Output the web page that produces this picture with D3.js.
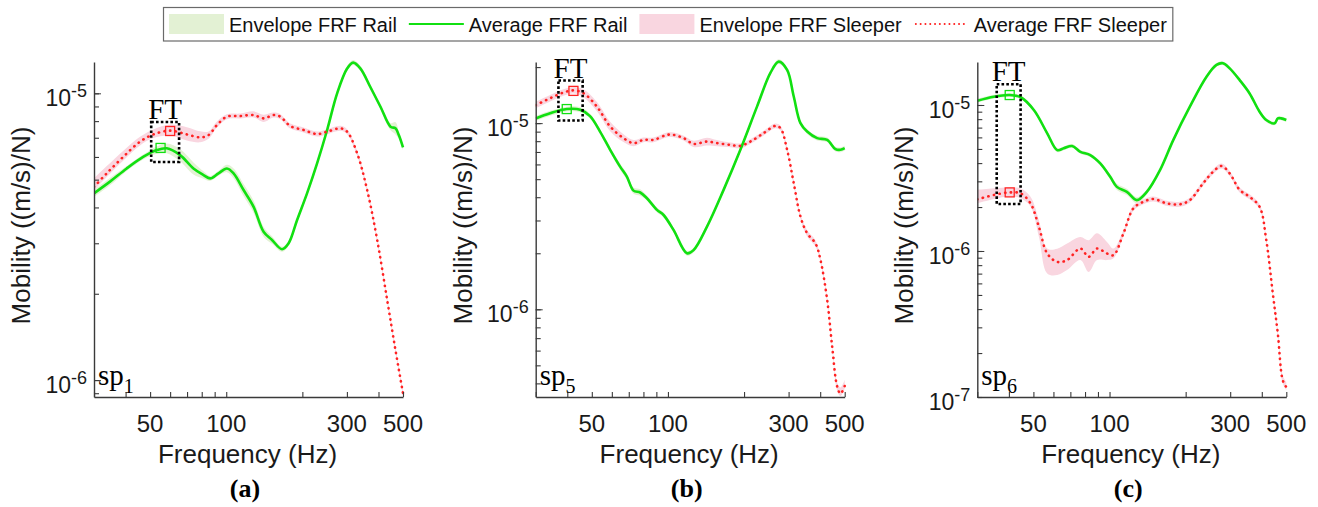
<!DOCTYPE html>
<html><head><meta charset="utf-8">
<script src="https://cdn.jsdelivr.net/npm/d3@7"></script>
<style>body{margin:0;background:#fff} svg{display:block}</style>
</head><body><svg id="chart" width="1318" height="507"></svg>
<script>
// ---------------- DATA ----------------
const freqLimits = [30, 500];
const xTickValues = [50, 100, 300, 500];
const legendLabels = ['Envelope FRF Rail', 'Average FRF Rail', 'Envelope FRF Sleeper', 'Average FRF Sleeper'];
const panelLabels = ['(a)', '(b)', '(c)'];
const spIndices = ['1', '5', '6'];
const ftLabel = 'FT';

// Panel (a) sp1
const yLimitsA = [0.873e-6, 1.286e-5];
const yTicksA = [1e-6, 1e-5];
const railFreqA = [30, 34.7, 40.4, 47.1, 53.1, 58.2, 65.7, 74.2, 81.3, 86.4, 93.2, 100.6, 106.9, 117.1, 128.3, 140.5, 151.7, 166.2, 176.5, 190.5, 208.7, 228.7, 250.6, 274.5, 300.6, 317.6, 339.5, 371.8, 407.3, 446.2, 467, 481.3, 500];
const railMobA = [4.48e-6, 4.92e-6, 5.47e-6, 6.01e-6, 6.34e-6, 6.43e-6, 6.09e-6, 5.47e-6, 5.19e-6, 5.05e-6, 5.26e-6, 5.47e-6, 5.26e-6, 4.60e-6, 4.02e-6, 3.29e-6, 3.08e-6, 2.86e-6, 3.00e-6, 3.61e-6, 4.48e-6, 5.70e-6, 7.45e-6, 10.0e-6, 12.2e-6, 12.8e-6, 12.2e-6, 10.5e-6, 8.98e-6, 7.65e-6, 7.55e-6, 7.15e-6, 6.48e-6];
const railEnvA = [1.03, 1.03, 1.02, 1.02, 1.03, 1.04, 1.05, 1.05, 1.03, 1.02, 1.02, 1.03, 1.04, 1.05, 1.05, 1.04, 1.03, 1.02, 1.02, 1.02, 1.02, 1.02, 1.02, 1.02, 1.02, 1.02, 1.02, 1.02, 1.02, 1.03, 1.05, 1.03, 1.02];
const sleeperFreqA = [30, 33.7, 39.2, 45.6, 51.5, 60.0, 69.9, 78.9, 85.1, 91.9, 100.6, 113.6, 128.3, 140.5, 153.9, 163.6, 179.3, 202.3, 228.7, 250.6, 282.9, 300.6, 329.4, 360.8, 395.3, 433, 467, 500];
const sleeperMobA = [4.72e-6, 5.26e-6, 6.01e-6, 6.78e-6, 7.19e-6, 7.41e-6, 7.19e-6, 7.02e-6, 7.15e-6, 7.75e-6, 8.29e-6, 8.33e-6, 8.40e-6, 8.18e-6, 8.40e-6, 8.29e-6, 7.69e-6, 7.45e-6, 7.21e-6, 7.35e-6, 7.55e-6, 7.35e-6, 6.18e-6, 4.60e-6, 3.08e-6, 1.90e-6, 1.27e-6, 0.899e-6];
const sleeperUpA = [1.07, 1.06, 1.05, 1.04, 1.04, 1.05, 1.06, 1.05, 1.03, 1.03, 1.02, 1.02, 1.03, 1.03, 1.02, 1.02, 1.02, 1.02, 1.02, 1.02, 1.02, 1.02, 1.02, 1.02, 1.02, 1.02, 1.02, 1.02];
const sleeperDnA = [1.03, 1.03, 1.03, 1.03, 1.03, 1.04, 1.05, 1.04, 1.03, 1.02, 1.02, 1.02, 1.02, 1.03, 1.02, 1.02, 1.02, 1.02, 1.02, 1.02, 1.02, 1.02, 1.02, 1.02, 1.02, 1.02, 1.02, 1.02];
const ftBoxA = [50.5, 65.1, 5.76e-6, 7.94e-6];      // fLo, fHi, mLo, mHi
const railMarkA = [55, 6.45e-6];
const sleeperMarkA = [60, 7.39e-6];

// Panel (b) sp5
const yLimitsB = [3.38e-7, 2.13e-5];
const yTicksB = [1e-6, 1e-5];
const railFreqB = [30, 34.2, 39.8, 45.0, 49.2, 53.9, 59.1, 64.7, 68.8, 73.1, 77.7, 82.6, 90.5, 96.1, 105.2, 118.9, 126.3, 142.7, 166, 193.4, 225.2, 254.2, 274.2, 296, 314.4, 334.2, 355.2, 389, 426.4, 459.8, 481.3, 500];
const railMobB = [10.6e-6, 11.3e-6, 11.9e-6, 11.8e-6, 10.9e-6, 9.01e-6, 7.19e-6, 5.84e-6, 5.16e-6, 4.34e-6, 4.24e-6, 3.95e-6, 3.42e-6, 3.21e-6, 2.67e-6, 2.00e-6, 2.08e-6, 2.78e-6, 4.38e-6, 7.19e-6, 12.3e-6, 18.6e-6, 21.4e-6, 19.3e-6, 13.9e-6, 10.0e-6, 9.01e-6, 8.31e-6, 8.13e-6, 7.25e-6, 7.19e-6, 7.34e-6];
const railEnvB = [1.03, 1.03, 1.03, 1.03, 1.03, 1.03, 1.03, 1.04, 1.04, 1.04, 1.04, 1.03, 1.03, 1.03, 1.03, 1.03, 1.03, 1.03, 1.03, 1.03, 1.03, 1.03, 1.03, 1.03, 1.03, 1.03, 1.03, 1.03, 1.03, 1.03, 1.03, 1.03];
const sleeperFreqB = [30, 34.2, 38.6, 42.3, 46.3, 52.3, 59.1, 66.7, 73.1, 80.0, 87.7, 99.1, 105.2, 115.3, 126.3, 142.7, 156.3, 176.5, 193.4, 211.8, 239.1, 266.1, 278.6, 296, 314.4, 334.2, 355.2, 383.1, 401.1, 426.4, 446.2, 467, 481.3, 500];
const sleeperMobB = [12.5e-6, 13.6e-6, 14.6e-6, 15.0e-6, 14.5e-6, 12.3e-6, 9.59e-6, 8.31e-6, 7.81e-6, 8.13e-6, 8.13e-6, 8.65e-6, 8.65e-6, 8.31e-6, 7.74e-6, 7.96e-6, 7.81e-6, 7.64e-6, 7.55e-6, 7.96e-6, 8.84e-6, 9.67e-6, 9.40e-6, 7.19e-6, 4.76e-6, 3.15e-6, 2.56e-6, 2.26e-6, 1.84e-6, 1.12e-6, 0.629e-6, 0.384e-6, 0.352e-6, 0.387e-6];
const sleeperUpB = [1.04, 1.04, 1.04, 1.04, 1.05, 1.06, 1.06, 1.05, 1.04, 1.03, 1.03, 1.03, 1.03, 1.03, 1.04, 1.05, 1.04, 1.03, 1.03, 1.03, 1.03, 1.03, 1.03, 1.03, 1.03, 1.03, 1.04, 1.04, 1.03, 1.03, 1.03, 1.05, 1.08, 1.08];
const sleeperDnB = [1.04, 1.04, 1.04, 1.04, 1.05, 1.06, 1.06, 1.05, 1.04, 1.03, 1.03, 1.03, 1.03, 1.03, 1.04, 1.05, 1.04, 1.03, 1.03, 1.03, 1.03, 1.03, 1.03, 1.03, 1.03, 1.03, 1.04, 1.04, 1.03, 1.03, 1.03, 1.05, 1.03, 1.03];
const ftBoxB = [36.9, 46.0, 1.033e-5, 1.694e-5];
const railMarkB = [39.8, 1.19e-5];
const sleeperMarkB = [42.3, 1.49e-5];

// Panel (c) sp6
const yLimitsC = [1e-7, 1.97e-5];
const yTicksC = [1e-7, 1e-6, 1e-5];
const railFreqC = [30, 34.9, 40.3, 44.5, 50.2, 56.7, 62.1, 65.9, 71.1, 76.7, 83.9, 91.9, 100.6, 106.9, 117.1, 128.2, 140.4, 158.3, 178.6, 207.8, 241.8, 264.8, 281.1, 298.7, 327.1, 358, 392, 416.6, 449.1, 462.8, 477.2, 500];
const railMobC = [10.7e-6, 11.4e-6, 11.7e-6, 11.3e-6, 9.24e-6, 6.40e-6, 4.91e-6, 5.05e-6, 5.24e-6, 4.78e-6, 4.54e-6, 3.98e-6, 3.22e-6, 2.75e-6, 2.54e-6, 2.23e-6, 2.54e-6, 3.58e-6, 5.75e-6, 9.73e-6, 15.6e-6, 18.8e-6, 19.3e-6, 17.8e-6, 14.8e-6, 12.0e-6, 9.00e-6, 7.89e-6, 7.49e-6, 8.10e-6, 8.10e-6, 7.89e-6];
const railEnvC = [1.03, 1.03, 1.03, 1.03, 1.03, 1.03, 1.03, 1.03, 1.03, 1.03, 1.03, 1.03, 1.04, 1.05, 1.05, 1.05, 1.04, 1.03, 1.03, 1.03, 1.03, 1.03, 1.03, 1.03, 1.03, 1.03, 1.03, 1.03, 1.03, 1.03, 1.03, 1.03];
const sleeperFreqC = [30, 34.9, 40.3, 44.5, 48.7, 52.6, 56.7, 62.1, 67.9, 76.7, 82.7, 89.2, 97.7, 103.7, 113.5, 124.3, 136.1, 149.0, 168.3, 189.8, 207.8, 234.5, 256.8, 277, 298.7, 327.1, 358, 392, 416.6, 442.2, 462.8, 484.2, 500];
const sleeperMobC = [2.26e-6, 2.42e-6, 2.52e-6, 2.48e-6, 2.12e-6, 1.46e-6, 0.962e-6, 0.842e-6, 0.866e-6, 1.04e-6, 0.912e-6, 1.04e-6, 0.962e-6, 0.936e-6, 1.32e-6, 1.96e-6, 2.17e-6, 2.27e-6, 2.12e-6, 2.09e-6, 2.23e-6, 2.91e-6, 3.49e-6, 3.82e-6, 3.40e-6, 2.62e-6, 2.35e-6, 2.01e-6, 1.19e-6, 0.512e-6, 0.272e-6, 0.130e-6, 0.117e-6];
const sleeperUpC = [1.16, 1.11, 1.08, 1.08, 1.11, 1.11, 1.08, 1.23, 1.30, 1.20, 1.30, 1.27, 1.20, 1.11, 1.05, 1.05, 1.04, 1.04, 1.04, 1.04, 1.04, 1.04, 1.04, 1.04, 1.04, 1.04, 1.04, 1.04, 1.04, 1.04, 1.05, 1.08, 1.08];
const sleeperDnC = [1.065, 1.065, 1.065, 1.08, 1.05, 1.17, 1.37, 1.23, 1.17, 1.20, 1.27, 1.20, 1.11, 1.05, 1.05, 1.04, 1.04, 1.04, 1.04, 1.04, 1.04, 1.04, 1.04, 1.04, 1.04, 1.04, 1.04, 1.04, 1.04, 1.04, 1.05, 1.05, 1.05];
const ftBoxC = [35.8, 44.5, 2.096e-6, 1.387e-5];
const railMarkC = [40.3, 1.17e-5];
const sleeperMarkC = [40.3, 2.52e-6];

// ---------------- STYLE / LAYOUT ----------------
const GREEN = '#11e011', RED = '#ff2222';
const GREEN_ENV = '#e3f1d4', RED_ENV = '#f9d6e0';
const AXIS = '#3a3a3a';
const SANS = '"Liberation Sans", Arial, sans-serif';
const SERIF = '"Liberation Serif", "Times New Roman", serif';
const plotTop = 62, plotBottom = 397, plotWidth = 309;

const panels = [
  {left: 94, yLim: yLimitsA, yTicks: yTicksA, rf: railFreqA, rm: railMobA, re: railEnvA, sf: sleeperFreqA, sm: sleeperMobA, su: sleeperUpA, sd: sleeperDnA, box: ftBoxA, rMark: railMarkA, sMark: sleeperMarkA},
  {left: 535.7, yLim: yLimitsB, yTicks: yTicksB, rf: railFreqB, rm: railMobB, re: railEnvB, sf: sleeperFreqB, sm: sleeperMobB, su: sleeperUpB, sd: sleeperDnB, box: ftBoxB, rMark: railMarkB, sMark: sleeperMarkB},
  {left: 977.3, yLim: yLimitsC, yTicks: yTicksC, rf: railFreqC, rm: railMobC, re: railEnvC, sf: sleeperFreqC, sm: sleeperMobC, su: sleeperUpC, sd: sleeperDnC, box: ftBoxC, rMark: railMarkC, sMark: sleeperMarkC}
];

const svg = d3.select('#chart');
svg.append('rect').attr('width', 1318).attr('height', 507).attr('fill', '#fff');

function minorTicks(domain) {
  const out = [];
  const k0 = Math.floor(Math.log10(domain[0])), k1 = Math.ceil(Math.log10(domain[1]));
  for (let k = k0; k <= k1; k++) for (let m = 1; m <= 9; m++) {
    const v = m * Math.pow(10, k);
    if (v >= domain[0] * 0.999 && v <= domain[1] * 1.001) out.push(v);
  }
  return out;
}

panels.forEach((p, i) => {
  const g = svg.append('g');
  const x = d3.scaleLog().domain(freqLimits).range([p.left, p.left + plotWidth]);
  const y = d3.scaleLog().domain(p.yLim).range([plotBottom, plotTop]);
  const clipId = 'clip' + i;
  svg.append('clipPath').attr('id', clipId).append('rect')
    .attr('x', p.left).attr('y', plotTop - 3).attr('width', plotWidth + 3).attr('height', plotBottom - plotTop + 3);
  const plot = g.append('g').attr('clip-path', `url(#${clipId})`);

  const rail = p.rf.map((f, j) => ({f, m: p.rm[j], lo: p.rm[j] / p.re[j], hi: p.rm[j] * p.re[j]}));
  const sleeper = p.sf.map((f, j) => ({f, m: p.sm[j], lo: p.sm[j] / p.sd[j], hi: p.sm[j] * p.su[j]}));
  const curve = d3.curveCatmullRom.alpha(0.5);
  const area = d3.area().x(d => x(d.f)).y0(d => y(d.lo)).y1(d => y(d.hi)).curve(curve);
  const line = d3.line().x(d => x(d.f)).y(d => y(d.m)).curve(curve);

  plot.append('path').datum(rail).attr('d', area).attr('fill', GREEN_ENV);
  plot.append('path').datum(sleeper).attr('d', area).attr('fill', RED_ENV);
  plot.append('path').datum(rail).attr('d', line).attr('fill', 'none').attr('stroke', GREEN).attr('stroke-width', 2.6);
  plot.append('path').datum(sleeper).attr('d', line).attr('fill', 'none').attr('stroke', RED)
    .attr('stroke-width', 2.6).attr('stroke-linecap', 'round').attr('stroke-dasharray', '0.3,5.4');

  // FT box
  const b = p.box;
  g.append('rect').attr('x', x(b[0])).attr('y', y(b[3])).attr('width', x(b[1]) - x(b[0])).attr('height', y(b[2]) - y(b[3]))
    .attr('fill', 'none').attr('stroke', '#000').attr('stroke-width', 2.6).attr('stroke-dasharray', '2.6,2.2');
  g.append('text').attr('x', (x(b[0]) + x(b[1])) / 2).attr('y', y(b[3]) - 3).attr('text-anchor', 'middle')
    .attr('font-family', SERIF).attr('font-size', 29).text(ftLabel);
  // markers
  [[p.rMark, GREEN], [p.sMark, RED]].forEach(([mk, c]) => {
    g.append('rect').attr('x', x(mk[0]) - 4.5).attr('y', y(mk[1]) - 4.5).attr('width', 9).attr('height', 9)
      .attr('fill', 'none').attr('stroke', c).attr('stroke-width', 1.3);
  });

  // axes
  const ax = g.append('g').attr('transform', `translate(0,${plotBottom})`)
    .call(d3.axisBottom(x).tickValues(minorTicks(freqLimits)).tickSizeInner(-5).tickSizeOuter(0).tickFormat(''));
  const ay = g.append('g').attr('transform', `translate(${p.left},0)`)
    .call(d3.axisLeft(y).tickValues(minorTicks(p.yLim)).tickSizeInner(-5).tickSizeOuter(0).tickFormat(''));
  g.append('g').attr('transform', `translate(${p.left},0)`)
    .call(d3.axisLeft(y).tickValues(p.yTicks).tickSizeInner(-7).tickSizeOuter(0).tickFormat(''))
    .select('.domain').remove();
  [ax, ay].forEach(a => {
    a.select('.domain').attr('stroke', AXIS).attr('stroke-width', 1.4);
    a.selectAll('.tick line').attr('stroke', AXIS).attr('stroke-width', 1.1);
  });
  g.selectAll('.tick line').attr('stroke', AXIS);

  // x tick labels
  xTickValues.forEach(v => {
    g.append('text').attr('x', x(v)).attr('y', 432).attr('text-anchor', 'middle')
      .attr('font-family', SANS).attr('font-size', 24).attr('fill', '#1a1a1a').text(v);
  });
  // y tick labels
  p.yTicks.forEach(v => {
    const t = g.append('text').attr('x', p.left - 7).attr('y', y(v) + 13).attr('text-anchor', 'end')
      .attr('font-family', SANS).attr('fill', '#1a1a1a');
    t.append('tspan').attr('font-size', 23).text('10');
    t.append('tspan').attr('font-size', 18).attr('dy', -9).text('-' + Math.round(-Math.log10(v)));
  });
  // axis titles
  const cx = p.left + plotWidth / 2;
  g.append('text').attr('x', cx - 1).attr('y', 463).attr('text-anchor', 'middle')
    .attr('font-family', SANS).attr('font-size', 26).attr('fill', '#1a1a1a').text('Frequency (Hz)');
  g.append('text').attr('transform', `translate(${p.left - 64},${(plotTop + plotBottom) / 2 - 4}) rotate(-90)`)
    .attr('text-anchor', 'middle').attr('font-family', SANS).attr('font-size', 26).attr('fill', '#1a1a1a')
    .text('Mobility ((m/s)/N)');
  // sp label
  const sp = g.append('text').attr('x', p.left + 4).attr('y', 385).attr('font-family', SERIF).attr('font-size', 29).attr('fill', '#000');
  sp.append('tspan').text('sp');
  sp.append('tspan').attr('font-size', 20).attr('dy', 8).text(spIndices[i]);
  // panel label
  g.append('text').attr('x', cx - 3.5).attr('y', 497).attr('text-anchor', 'middle')
    .attr('font-family', SERIF).attr('font-weight', 'bold').attr('font-size', 26).attr('fill', '#000').text(panelLabels[i]);
});

// ---------------- LEGEND ----------------
const leg = svg.append('g');
const legBox = leg.append('rect').attr('x', 163.5).attr('y', 7.5).attr('height', 33.5)
  .attr('fill', '#fff').attr('stroke', '#6a6a6a').attr('stroke-width', 1.2);
let lx = 169;
legendLabels.forEach((lab, k) => {
  if (k === 0 || k === 2) {
    leg.append('rect').attr('x', lx).attr('y', 14).attr('width', 55).attr('height', 20).attr('fill', k === 0 ? GREEN_ENV : RED_ENV);
  } else if (k === 1) {
    leg.append('line').attr('x1', lx).attr('x2', lx + 55).attr('y1', 24).attr('y2', 24).attr('stroke', GREEN).attr('stroke-width', 2.2);
  } else {
    leg.append('line').attr('x1', lx + 2).attr('x2', lx + 53).attr('y1', 24).attr('y2', 24).attr('stroke', RED)
      .attr('stroke-width', 1.8).attr('stroke-linecap', 'round').attr('stroke-dasharray', '0.2,4.6');
  }
  const t = leg.append('text').attr('x', lx + 60).attr('y', 32).attr('font-family', SANS).attr('font-size', 20)
    .attr('fill', '#111').text(lab);
  lx = lx + 60 + t.node().getComputedTextLength() + 12;
});
legBox.attr('width', lx - 12 + 6 - 163.5);
</script></body></html>
